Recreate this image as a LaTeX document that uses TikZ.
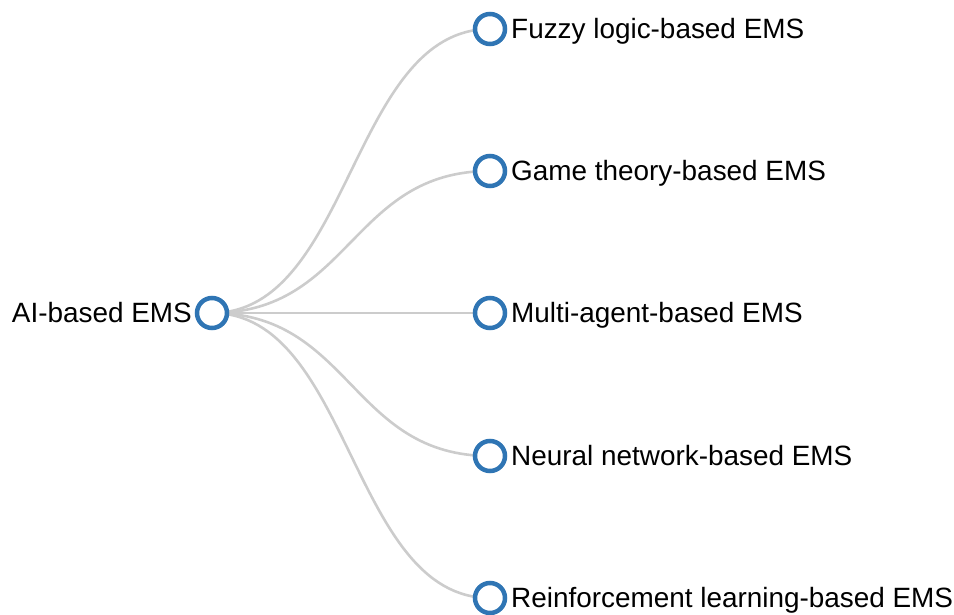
\documentclass[tikz,border=0pt]{standalone}
\usepackage{fontspec}
\setmainfont{Liberation Sans}
\definecolor{nodeblue}{RGB}{47,117,180}
\definecolor{linkgray}{RGB}{204,204,204}
\begin{document}
\begin{tikzpicture}[x=1pt,y=-1pt,
  treenode/.style={circle,draw=nodeblue,line width=4.5pt,fill=white,minimum size=30pt,inner sep=0pt},
  treelink/.style={draw=linkgray,line width=2.6pt},
  leaflabel/.style={anchor=base west,inner sep=0pt,font=\fontsize{27.9}{32}\selectfont},
  rootlabel/.style={anchor=base east,inner sep=0pt,font=\fontsize{27.9}{32}\selectfont}]
\useasboundingbox (0,0) rectangle (954,615);
% tree nodes
\coordinate (r) at (212,313);
\coordinate (c1) at (490,29);
\coordinate (c2) at (490,171);
\coordinate (c3) at (490,313);
\coordinate (c4) at (490,456);
\coordinate (c5) at (490,598);
% horizontal links, control points halfway
\foreach \c/\y in {c1/29,c2/171,c3/313,c4/456,c5/598}{
  \draw[treelink] (r) .. controls (351,313) and (351,\y) .. (\c);
}
\node[treenode] (rn) at (r) {};
\node[treenode] (n1) at (c1) {};
\node[treenode] (n2) at (c2) {};
\node[treenode] (n3) at (c3) {};
\node[treenode] (n4) at (c4) {};
\node[treenode] (n5) at (c5) {};
% labels
\node[rootlabel] (lr) at (192,322.8) {AI-based EMS};
\node[leaflabel] (l1) at (511,38.8) {Fuzzy logic-based EMS};
\node[leaflabel] (l2) at (511,180.8) {Game theory-based EMS};
\node[leaflabel] (l3) at (511,322.8) {Multi-agent-based EMS};
\node[leaflabel] (l4) at (511,465.8) {Neural network-based EMS};
\node[leaflabel] (l5) at (511,607.8) {Reinforcement learning-based EMS};
\end{tikzpicture}
\end{document}
